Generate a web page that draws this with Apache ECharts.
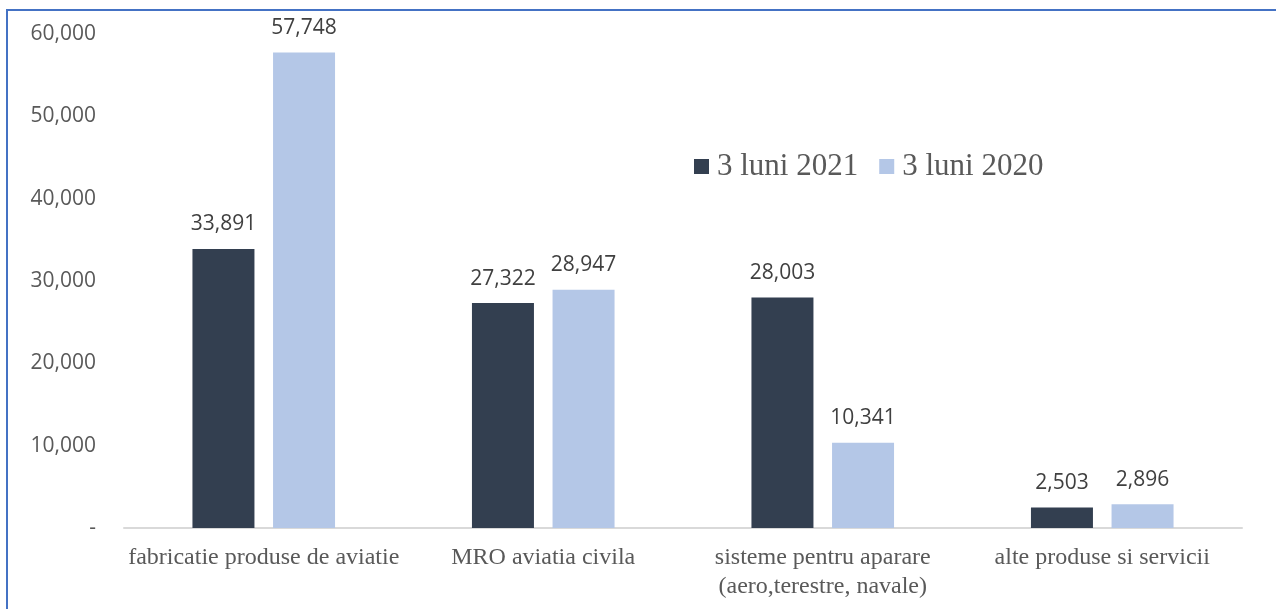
<!DOCTYPE html>
<html>
<head>
<meta charset="utf-8">
<script src="https://cdn.jsdelivr.net/npm/echarts@6/dist/echarts.min.js"></script>
<style>
  html, body { margin: 0; padding: 0; background: #fff; }
  #main { width: 1276px; height: 609px; }
</style>
</head>
<body>
<div id="main"></div>
<script>
// categorii si valori
var categories = [
  'fabricatie produse de aviatie',
  'MRO aviatia civila',
  'sisteme pentru aparare\n(aero,terestre, navale)',
  'alte produse si servicii'
]
var seriesNames = ['3 luni 2021', '3 luni 2020']
var values2021 = [33891, 27322, 28003, 2503]
var values2020 = [57748, 28947, 10341, 2896]

var chart = echarts.init(document.getElementById('main'))

var fmt = function (v) {
  return v === 0 ? '-' : v.toLocaleString('en-US')
}

var dataLabel = {
  show: true,
  position: 'top',
  distance: 14,
  fontFamily: 'Open Sans',
  fontSize: 21,
  color: '#404040',
  formatter: function (p) { return fmt(p.value) }
}

var option = {
  backgroundColor: '#fff',
  animation: false,
  graphic: [{
    type: 'rect',
    shape: { x: 7, y: 10, width: 1300, height: 700 },
    style: { fill: 'none', stroke: '#4472C4', lineWidth: 2 },
    silent: true
  }],
  legend: {
    data: seriesNames,
    left: 689,
    top: 146,
    itemWidth: 15,
    itemHeight: 15,
    itemGap: 21,
    icon: 'rect',
    textStyle: {
      fontFamily: 'Liberation Serif',
      fontSize: 31,
      color: '#595959',
      padding: [0, 0, 0, 3]
    }
  },
  grid: {
    left: 124,
    right: 34,
    top: 34,
    bottom: 81,
    containLabel: false
  },
  xAxis: {
    type: 'category',
    data: categories,
    axisLine: { lineStyle: { color: '#d9d9d9', width: 2 } },
    axisTick: { show: false },
    axisLabel: {
      interval: 0,
      margin: 15,
      fontFamily: 'Liberation Serif',
      fontSize: 24,
      lineHeight: 29,
      color: '#595959'
    }
  },
  yAxis: {
    type: 'value',
    min: 0,
    max: 60000,
    interval: 10000,
    splitLine: { show: false },
    axisLine: { show: false },
    axisTick: { show: false },
    axisLabel: {
      margin: 28,
      fontFamily: 'Open Sans',
      fontSize: 21,
      color: '#595959',
      formatter: fmt
    }
  },
  series: [{
    name: seriesNames[0],
    type: 'bar',
    barWidth: 62,
    barGap: '30%',
    itemStyle: { color: '#333F50' },
    label: dataLabel,
    data: values2021
  }, {
    name: seriesNames[1],
    type: 'bar',
    barWidth: 62,
    barGap: '30%',
    itemStyle: { color: '#B4C7E7' },
    label: dataLabel,
    data: values2020
  }]
}

chart.setOption(option)
window.onresize = chart.resize
</script>
</body>
</html>
